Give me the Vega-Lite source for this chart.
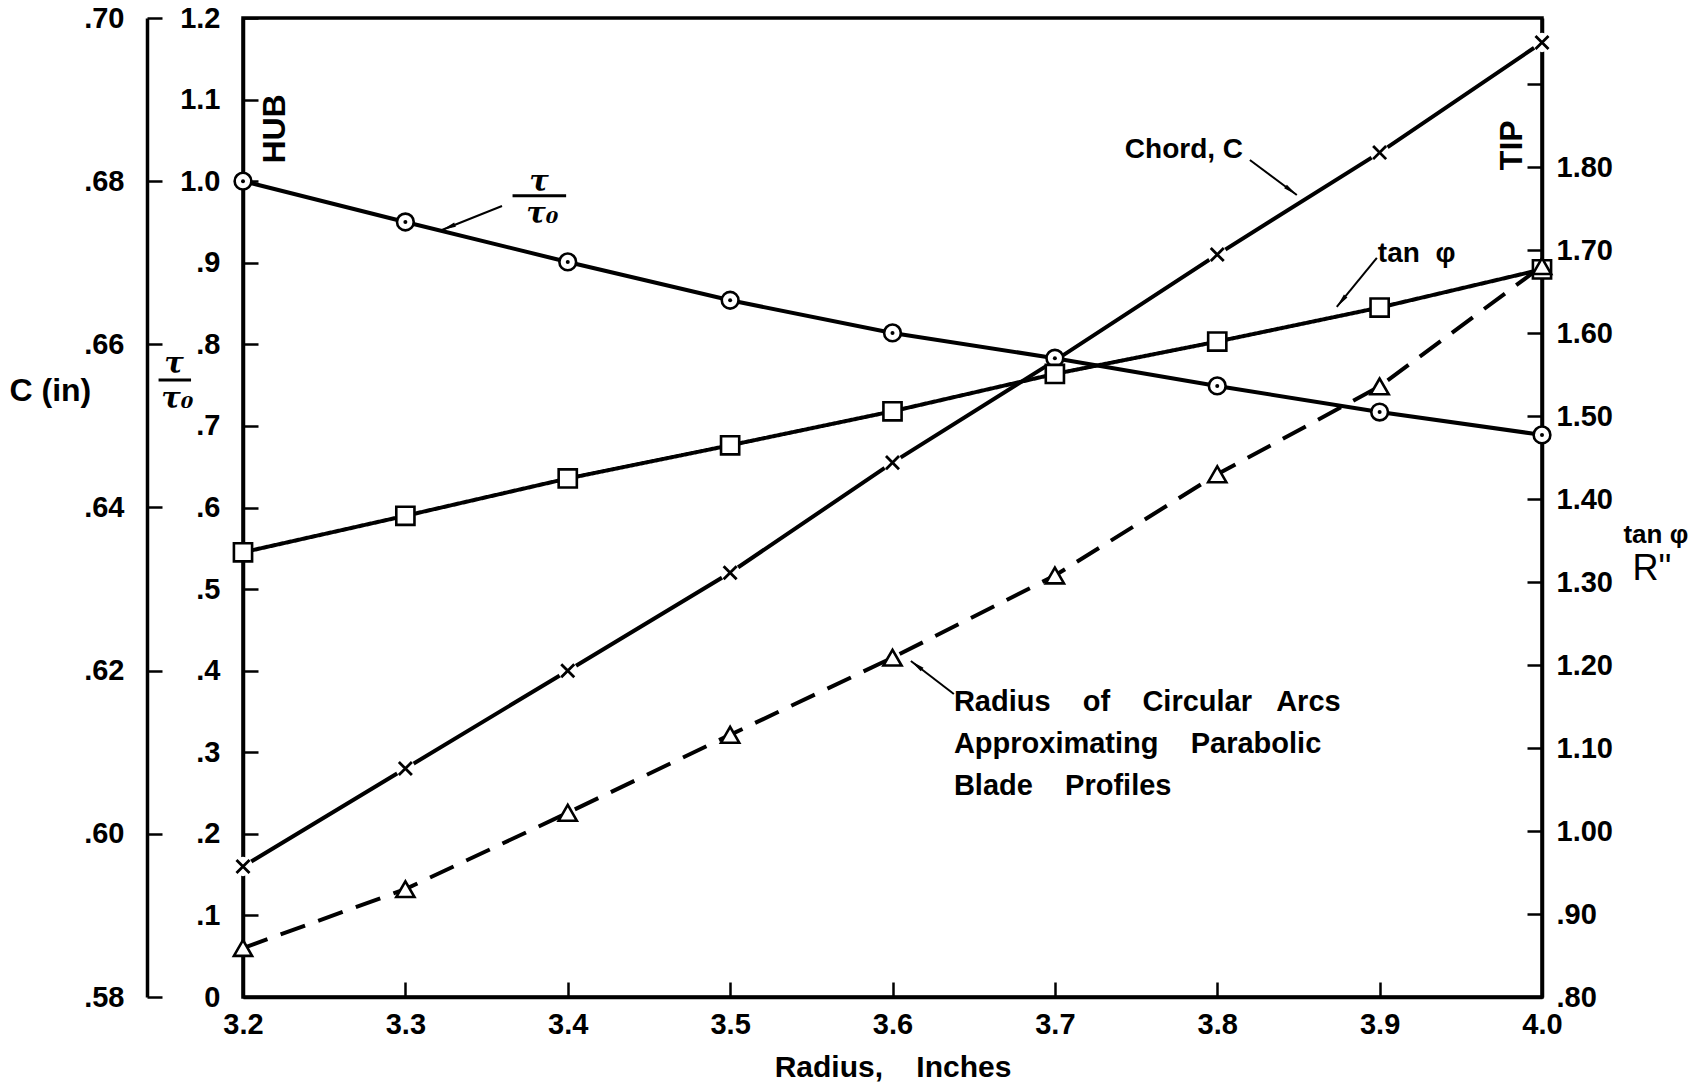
{
  "$schema": "https://vega.github.io/schema/vega-lite/v6.json",
  "width": 1299,
  "height": 979,
  "autosize": {"type": "none"},
  "padding": {"left": 243, "top": 18, "right": 158, "bottom": 89},
  "background": "white",
  "config": {
    "view": {"stroke": "black", "strokeWidth": 3.5},
    "axis": {
      "grid": false, "domainColor": "black", "domainWidth": 3.5,
      "tickColor": "black", "tickWidth": 2.5, "tickSize": -15,
      "labelFont": "Liberation Sans", "labelFontWeight": "bold", "labelFontSize": 29, "labelColor": "black",
      "titleFont": "Liberation Sans", "titleFontWeight": "bold", "titleFontSize": 30, "titleColor": "black",
      "labelOverlap": false, "labelFlush": false
    },
    "text": {"font": "Liberation Sans", "fontWeight": "bold", "fontSize": 28, "color": "black"}
  },
  "encoding": {
    "x": {
      "field": "r", "type": "quantitative",
      "scale": {"domain": [3.2, 4.0], "nice": false, "zero": false},
      "axis": {
        "values": [3.2, 3.3, 3.4, 3.5, 3.6, 3.7, 3.8, 3.9, 4.0],
        "format": ".1f", "labelPadding": 28,
        "title": "Radius,\u00a0\u00a0\u00a0\u00a0Inches", "titlePadding": 13
      }
    }
  },
  "layer": [
    {
      "data": {"values": [
        {"r": 3.2, "v": 0.596}, {"r": 3.3, "v": 0.608}, {"r": 3.4, "v": 0.620},
        {"r": 3.5, "v": 0.632}, {"r": 3.6, "v": 0.6455}, {"r": 3.7, "v": 0.658},
        {"r": 3.8, "v": 0.671}, {"r": 3.9, "v": 0.6835}, {"r": 4.0, "v": 0.697}
      ]},
      "encoding": {
        "y": {
          "field": "v", "type": "quantitative",
          "scale": {"domain": [0.58, 0.70], "nice": false, "zero": false},
          "axis": {
            "orient": "left", "offset": 96,
            "values": [0.58, 0.60, 0.62, 0.64, 0.66, 0.68, 0.70],
            "labelExpr": "replace(format(datum.value, '.2f'), '0.', '.')",
            "labelPadding": 38,
            "title": "C (in)", "titleAngle": 0, "titleAlign": "left", "titleBaseline": "middle",
            "titleFontSize": 32, "titleX": -138, "titleY": 372
          }
        }
      },
      "layer": [
        {"mark": {"type": "line", "color": "black", "strokeWidth": 4}},
        {"mark": {"type": "point", "shape": "circle", "filled": true, "fill": "white", "strokeOpacity": 0, "size": 380, "opacity": 1}},
        {"mark": {"type": "point", "shape": "M-1,-1L1,1M1,-1L-1,1", "filled": false, "stroke": "black", "strokeWidth": 2.8, "size": 170, "opacity": 1}}
      ]
    },
    {
      "data": {"values": [
        {"r": 3.2, "v": 1.0}, {"r": 3.3, "v": 0.950}, {"r": 3.4, "v": 0.901},
        {"r": 3.5, "v": 0.854}, {"r": 3.6, "v": 0.814}, {"r": 3.7, "v": 0.783},
        {"r": 3.8, "v": 0.749}, {"r": 3.9, "v": 0.717}, {"r": 4.0, "v": 0.689}
      ]},
      "encoding": {
        "y": {
          "field": "v", "type": "quantitative",
          "scale": {"domain": [0, 1.2], "nice": false, "zero": false},
          "axis": {
            "orient": "left", "offset": 0,
            "values": [0, 0.1, 0.2, 0.3, 0.4, 0.5, 0.6, 0.7, 0.8, 0.9, 1.0, 1.1, 1.2],
            "labelExpr": "datum.value == 0 ? '0' : datum.value >= 0.99 ? format(datum.value, '.1f') : replace(format(datum.value, '.1f'), '0.', '.')",
            "labelPadding": 38, "title": null
          }
        }
      },
      "layer": [
        {"mark": {"type": "line", "color": "black", "strokeWidth": 4}},
        {"mark": {"type": "point", "shape": "circle", "filled": true, "fill": "white", "stroke": "black", "strokeWidth": 2.6, "size": 280, "opacity": 1}},
        {"mark": {"type": "point", "shape": "circle", "filled": true, "fill": "black", "size": 16, "opacity": 1}}
      ]
    },
    {
      "data": {"values": [
        {"r": 3.2, "v": 1.336, "s": "tan"}, {"r": 3.3, "v": 1.380, "s": "tan"}, {"r": 3.4, "v": 1.425, "s": "tan"},
        {"r": 3.5, "v": 1.465, "s": "tan"}, {"r": 3.6, "v": 1.506, "s": "tan"}, {"r": 3.7, "v": 1.551, "s": "tan"},
        {"r": 3.8, "v": 1.590, "s": "tan"}, {"r": 3.9, "v": 1.631, "s": "tan"}, {"r": 4.0, "v": 1.677, "s": "tan"},
        {"r": 3.2, "v": 0.859, "s": "R"}, {"r": 3.3, "v": 0.930, "s": "R"}, {"r": 3.4, "v": 1.022, "s": "R"},
        {"r": 3.5, "v": 1.116, "s": "R"}, {"r": 3.6, "v": 1.209, "s": "R"}, {"r": 3.7, "v": 1.308, "s": "R"},
        {"r": 3.8, "v": 1.430, "s": "R"}, {"r": 3.9, "v": 1.536, "s": "R"}, {"r": 4.0, "v": 1.681, "s": "R"}
      ]},
      "encoding": {
        "y": {
          "field": "v", "type": "quantitative",
          "scale": {"domain": [0.80, 1.98], "nice": false, "zero": false},
          "axis": {
            "orient": "right",
            "values": [0.8, 0.9, 1.0, 1.1, 1.2, 1.3, 1.4, 1.5, 1.6, 1.7, 1.8, 1.9],
            "labelExpr": "datum.value > 1.85 ? '' : datum.value < 0.99 ? replace(format(datum.value, '.2f'), '0.', '.') : format(datum.value, '.2f')",
            "labelPadding": 29, "title": null
          }
        }
      },
      "layer": [
        {
          "mark": {"type": "line", "color": "black", "strokeWidth": 4},
          "encoding": {
            "strokeDash": {"field": "s", "type": "nominal", "scale": {"domain": ["tan", "R"], "range": [[1, 0], [26, 14]]}, "legend": null}
          }
        },
        {
          "mark": {"type": "point", "filled": true, "fill": "white", "stroke": "black", "strokeWidth": 2.6, "size": 330, "opacity": 1},
          "encoding": {
            "shape": {"field": "s", "type": "nominal", "scale": {"domain": ["tan", "R"], "range": ["square", "triangle-up"]}, "legend": null}
          }
        }
      ]
    },
    {
      "data": {"values": [
        {"r": 3.7431, "v": 1.0382, "t": "Chord, C"},
        {"r": 3.8989, "v": 0.9108, "t": "tan\u00a0\u00a0φ"}
      ]},
      "mark": {"type": "text", "align": "left", "baseline": "middle", "fontSize": 28},
      "encoding": {
        "y": {"field": "v", "type": "quantitative", "scale": {"domain": [0, 1.2], "nice": false, "zero": false}, "axis": null},
        "text": {"field": "t", "type": "nominal"}
      }
    },
    {
      "data": {"values": [{"r": 3.6378, "v": 0.3788}]},
      "mark": {
        "type": "text", "align": "left", "baseline": "top", "fontSize": 29, "lineHeight": 42,
        "text": [
          "Radius\u00a0\u00a0\u00a0\u00a0of\u00a0\u00a0\u00a0\u00a0Circular\u00a0\u00a0\u00a0Arcs",
          "Approximating\u00a0\u00a0\u00a0\u00a0Parabolic",
          "Blade\u00a0\u00a0\u00a0\u00a0Profiles"
        ]
      },
      "encoding": {
        "y": {"field": "v", "type": "quantitative", "scale": {"domain": [0, 1.2], "nice": false, "zero": false}, "axis": null}
      }
    },
    {
      "data": {"values": [
        {"r": 3.2197, "v": 1.0640, "t": "HUB"},
        {"r": 3.9814, "v": 1.0440, "t": "TIP"}
      ]},
      "mark": {"type": "text", "align": "center", "baseline": "middle", "angle": 270, "fontSize": 32},
      "encoding": {
        "y": {"field": "v", "type": "quantitative", "scale": {"domain": [0, 1.2], "nice": false, "zero": false}, "axis": null},
        "text": {"field": "t", "type": "nominal"}
      }
    },
    {
      "data": {"values": [
        {"r": 4.0701, "v": 0.5663, "t": "tan φ"}
      ]},
      "mark": {"type": "text", "align": "center", "baseline": "middle", "fontSize": 26},
      "encoding": {
        "y": {"field": "v", "type": "quantitative", "scale": {"domain": [0, 1.2], "nice": false, "zero": false}, "axis": null},
        "text": {"field": "t", "type": "nominal"}
      }
    },
    {
      "data": {"values": [
        {"r": 4.0677, "v": 0.5246, "t": "R\""}
      ]},
      "mark": {"type": "text", "align": "center", "baseline": "middle", "fontSize": 36, "fontWeight": "normal"},
      "encoding": {
        "y": {"field": "v", "type": "quantitative", "scale": {"domain": [0, 1.2], "nice": false, "zero": false}, "axis": null},
        "text": {"field": "t", "type": "nominal"}
      }
    },
    {
      "data": {"values": [
        {"r": 3.1575, "v": 0.7760, "t": "τ"},
        {"r": 3.1595, "v": 0.7330, "t": "τ₀"},
        {"r": 3.3823, "v": 0.9990, "t": "τ"},
        {"r": 3.3843, "v": 0.9600, "t": "τ₀"}
      ]},
      "mark": {"type": "text", "align": "center", "baseline": "middle", "font": "DejaVu Serif", "fontStyle": "italic", "fontWeight": "bold", "fontSize": 29},
      "encoding": {
        "y": {"field": "v", "type": "quantitative", "scale": {"domain": [0, 1.2], "nice": false, "zero": false}, "axis": null},
        "text": {"field": "t", "type": "nominal"}
      }
    },
    {
      "data": {"values": [
        {"r": 3.1480, "r2": 3.1680, "v": 0.7563, "v2": 0.7563},
        {"r": 3.3660, "r2": 3.3990, "v": 0.9822, "v2": 0.9822}
      ]},
      "mark": {"type": "rule", "color": "black", "strokeWidth": 3},
      "encoding": {
        "y": {"field": "v", "type": "quantitative", "scale": {"domain": [0, 1.2], "nice": false, "zero": false}, "axis": null},
        "x2": {"field": "r2"},
        "y2": {"field": "v2"}
      }
    },
    {
      "data": {"values": [
        {"r": 3.3595, "v": 0.9696, "r2": 3.3225, "v2": 0.9402},
        {"r": 3.8201, "v": 1.0260, "r2": 3.8490, "v2": 0.9831},
        {"r": 3.8983, "v": 0.9059, "r2": 3.8736, "v2": 0.8458},
        {"r": 3.6378, "v": 0.3714, "r2": 3.6113, "v2": 0.4119}
      ]},
      "mark": {"type": "rule", "color": "black", "strokeWidth": 2},
      "encoding": {
        "y": {"field": "v", "type": "quantitative", "scale": {"domain": [0, 1.2], "nice": false, "zero": false}, "axis": null},
        "x2": {"field": "r2"},
        "y2": {"field": "v2"}
      }
    },
    {
      "data": {"values": [{"r": 3.3225, "v": 0.9402}]},
      "mark": {"type": "point", "shape": "M0,0L0.32,2L-0.32,2Z", "filled": true, "color": "black", "size": 200, "angle": 248, "opacity": 1},
      "encoding": {"y": {"field": "v", "type": "quantitative", "scale": {"domain": [0, 1.2], "nice": false, "zero": false}, "axis": null}}
    },
    {
      "data": {"values": [{"r": 3.8490, "v": 0.9831}]},
      "mark": {"type": "point", "shape": "M0,0L0.32,2L-0.32,2Z", "filled": true, "color": "black", "size": 200, "angle": 127, "opacity": 1},
      "encoding": {"y": {"field": "v", "type": "quantitative", "scale": {"domain": [0, 1.2], "nice": false, "zero": false}, "axis": null}}
    },
    {
      "data": {"values": [{"r": 3.8736, "v": 0.8458}]},
      "mark": {"type": "point", "shape": "M0,0L0.32,2L-0.32,2Z", "filled": true, "color": "black", "size": 200, "angle": 219, "opacity": 1},
      "encoding": {"y": {"field": "v", "type": "quantitative", "scale": {"domain": [0, 1.2], "nice": false, "zero": false}, "axis": null}}
    },
    {
      "data": {"values": [{"r": 3.6113, "v": 0.4119}]},
      "mark": {"type": "point", "shape": "M0,0L0.32,2L-0.32,2Z", "filled": true, "color": "black", "size": 200, "angle": 307, "opacity": 1},
      "encoding": {"y": {"field": "v", "type": "quantitative", "scale": {"domain": [0, 1.2], "nice": false, "zero": false}, "axis": null}}
    }
  ],
  "resolve": {"scale": {"y": "independent"}}
}
